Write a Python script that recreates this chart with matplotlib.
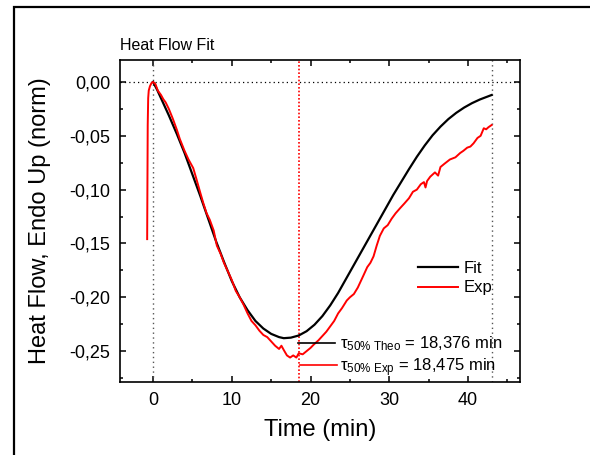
import matplotlib
matplotlib.use("Agg")
import matplotlib.pyplot as plt
from matplotlib.ticker import MultipleLocator, FuncFormatter
from matplotlib.patches import Rectangle

plt.rcParams['font.family'] = ['Liberation Sans', 'DejaVu Sans']
plt.rcParams['mathtext.fontset'] = 'custom'
plt.rcParams['mathtext.rm'] = 'Liberation Sans'
plt.rcParams['mathtext.it'] = 'Liberation Sans:italic'

# fitted curve
fit_t = [0, 0.5, 1, 2, 3, 4, 5, 6, 7, 8, 9, 10, 11, 12, 13, 14, 15, 16, 16.6,
         17.5, 18.5, 19.5, 20.5, 21.5, 22.5, 23.5, 24.5, 25.5, 26.5, 27.5, 28.5,
         29.5, 30.5, 31.5, 32.5, 33.5, 34.5, 35.5, 36.5, 37.5, 38.5, 39.5, 40.5,
         41.5, 42.5, 43]
fit_hf = [0, -0.007, -0.015, -0.031, -0.048, -0.066, -0.086, -0.106, -0.127,
          -0.148, -0.167, -0.185, -0.200, -0.212, -0.222, -0.229, -0.234, -0.237,
          -0.238, -0.2375, -0.2355, -0.2315, -0.2255, -0.2175, -0.2075, -0.196,
          -0.183, -0.170, -0.157, -0.144, -0.131, -0.118, -0.105, -0.093, -0.081,
          -0.0695, -0.059, -0.0495, -0.0415, -0.0345, -0.0287, -0.0238, -0.0197,
          -0.0163, -0.0135, -0.0121]

# experimental curve
exp_t = [-0.75, -0.72, -0.68, -0.62, -0.55, -0.4, -0.2, 0, 0.3, 0.6, 1.0, 1.3,
         1.6, 2.0, 2.5, 3.0, 3.4, 4.0, 4.5, 5.1, 5.5, 6.0, 6.4, 6.8, 7.2, 7.7,
         8.1, 8.6, 9.0, 9.5, 10.0, 10.5, 11.0, 11.5, 12.0, 12.5, 13.0, 13.5, 14.0,
         14.5, 15.0, 15.5, 16.0, 16.3, 16.6, 17.0, 17.4, 17.8, 18.2, 18.5, 19.0,
         19.5, 20.0, 20.4, 21.0, 21.5, 22.0, 22.5, 23.0, 23.5, 24.0, 24.6, 25.0,
         25.5, 26.0, 26.7, 27.2, 27.6, 28.0, 28.4, 28.8, 29.3, 29.8, 30.3, 30.8,
         31.4, 31.9, 32.5, 33.0, 33.5, 34.0, 34.4, 34.6, 34.8, 35.2, 35.8, 36.2,
         36.5, 37.0, 37.7, 38.4, 39.0, 39.4, 39.9, 40.3, 40.7, 41.2, 41.6, 42.0,
         42.3, 42.6, 43.0]
exp_hf = [-0.146, -0.10, -0.04, -0.015, -0.008, -0.004, -0.001, 0, -0.002,
          -0.008, -0.012, -0.016, -0.019, -0.025, -0.034, -0.044, -0.053, -0.064,
          -0.072, -0.080, -0.090, -0.103, -0.113, -0.122, -0.128, -0.138, -0.152,
          -0.160, -0.168, -0.176, -0.184, -0.194, -0.200, -0.207, -0.215, -0.222,
          -0.226, -0.231, -0.235, -0.237, -0.241, -0.245, -0.248, -0.245, -0.249,
          -0.254, -0.256, -0.254, -0.256, -0.252, -0.253, -0.250, -0.247, -0.244,
          -0.240, -0.236, -0.232, -0.227, -0.222, -0.215, -0.210, -0.203, -0.200,
          -0.197, -0.191, -0.180, -0.172, -0.168, -0.162, -0.152, -0.143, -0.136,
          -0.133, -0.127, -0.122, -0.117, -0.113, -0.108, -0.102, -0.100, -0.095,
          -0.093, -0.098, -0.092, -0.088, -0.084, -0.087, -0.079, -0.076, -0.072,
          -0.070, -0.066, -0.064, -0.061, -0.060, -0.057, -0.052, -0.050, -0.043,
          -0.044, -0.042, -0.040]

tau_names = ['Theo', 'Exp']
tau_vals = [18.376, 18.475]
t_end = 43

fig = plt.figure(figsize=(5.9, 4.55), dpi=100)
ax = fig.add_axes([120/590, 1-382/455, 400/590, 322/455])

# outer frame
fig.add_artist(Rectangle((14/590, -0.2), 1.5, 1.2 - 7/455, transform=fig.transFigure,
                         fill=False, lw=1.6, ec='black', clip_on=False))

ax.axhline(0, color='black', ls=':', lw=0.9, dashes=(1, 2.5))
ax.axvline(0, color='#555555', ls=':', lw=1.0, dashes=(1, 2.5))
ax.axvline(t_end, color='#555555', ls=':', lw=1.0, dashes=(1, 2.5))
ax.axvline(tau_vals[1], color='red', ls=':', lw=1.2, dashes=(1, 1.2))

ax.plot(fit_t, fit_hf, color='black', lw=1.6, label='Fit')
ax.plot(exp_t, exp_hf, color='red', lw=1.4, label='Exp')

ax.set_xlim(-4.2, 46.6)
ax.set_ylim(-0.2787, 0.0204)
ax.xaxis.set_major_locator(MultipleLocator(10))
ax.xaxis.set_minor_locator(MultipleLocator(5))
ax.yaxis.set_major_locator(MultipleLocator(0.05))
ax.yaxis.set_minor_locator(MultipleLocator(0.025))
ax.yaxis.set_major_formatter(FuncFormatter(lambda v, p: f'{v:.2f}'.replace('.', ',').replace('-0,00', '0,00')))
ax.tick_params(which='both', direction='in', top=True, right=True, width=1.1)
ax.tick_params(which='major', length=4, labelsize=13, pad=7)
ax.tick_params(which='minor', length=2.5)
for s in ax.spines.values():
    s.set_linewidth(1.2)

ax.set_xlabel('Time (min)', fontsize=17)
ax.set_ylabel('Heat Flow, Endo Up (norm)', fontsize=17)
ax.yaxis.set_label_coords(-0.1725, 0.5)
ax.xaxis.set_label_coords(0.5, -0.115)
ax.set_title('Heat Flow Fit', loc='left', fontsize=11.5, pad=7)

ax.legend(loc='upper left', bbox_to_anchor=(0.745, 0.375), frameon=False,
          fontsize=12, handlelength=2.4, handletextpad=0.35, labelspacing=0.25,
          borderaxespad=0, borderpad=0)

colors = ['black', 'red']
ys = [0.121, 0.053]
tys = [0.106, 0.034]
for name, val, c, y, ty in zip(tau_names, tau_vals, colors, ys, tys):
    ax.plot([0.445 + 0.005 * (c == 'red'), 0.5375 + 0.005 * (c == 'red')], [y, y],
            color=c, lw=1.2, transform=ax.transAxes)
    txt = 'τ$_{\\rm 50\\%\\ ' + name + '}$ = ' + f'{val:.3f}'.replace('.', ',') + ' min'
    ax.text(0.55, ty, txt, transform=ax.transAxes, fontsize=12, va='baseline')

fig.savefig('out.png', dpi=100)
